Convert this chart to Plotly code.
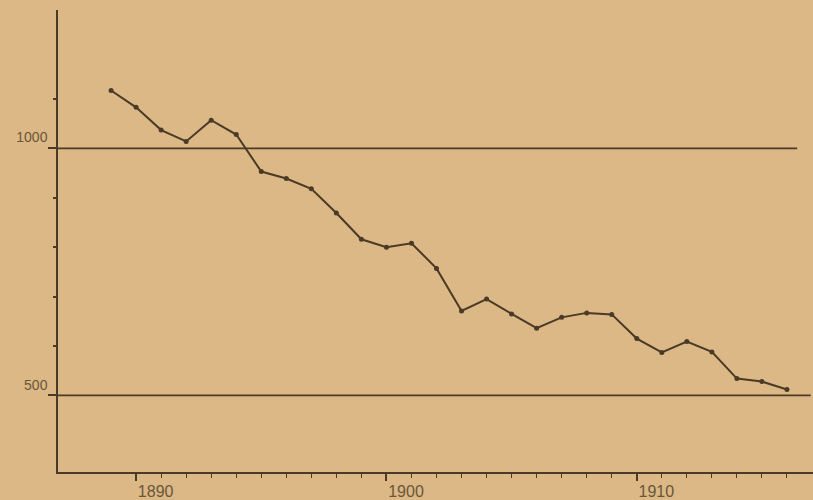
import plotly.graph_objects as go

years = list(range(1889, 1917))
values = [1117, 1083, 1037, 1014, 1057, 1028, 953, 939, 918, 869,
          816, 800, 808, 757, 671, 695, 665, 636, 658, 667,
          664, 615, 587, 609, 588, 534, 528, 512]

x_major = [1890, 1895, 1900, 1905, 1910, 1915]
x_major_text = ["1890", "", "1900", "", "1910", ""]
x_minor = list(range(1890, 1917))
y_major = [500, 1000]
y_major_text = ["500", "1000"]
y_minor = [600, 700, 800, 900, 1100]
ref_lines = [1000, 500]

ink = "#4a3a26"
bg = "#dbb886"

fig = go.Figure()
fig.add_trace(go.Scatter(
    x=years, y=values, mode="lines+markers",
    line=dict(color=ink, width=2),
    marker=dict(color=ink, size=5),
    showlegend=False, hoverinfo="x+y"))

line_ends = [0.979, 0.997]
for v, end in zip(ref_lines, line_ends):
    fig.add_shape(type="line", xref="paper", yref="y", x0=0, x1=end, y0=v, y1=v,
                  line=dict(color=ink, width=1.8))

fig.update_layout(
    width=813, height=500,
    margin=dict(l=58, r=0, t=10, b=28),
    paper_bgcolor=bg, plot_bgcolor=bg,
    font=dict(family="Liberation Sans", color="#6a5638"),
    xaxis=dict(
        range=[1886.88, 1917.04],
        tickmode="array", tickvals=x_major, ticktext=x_major_text,
        ticks="outside", ticklen=7, tickwidth=1.5, tickcolor=ink,
        ticklabelposition="outside right", ticklabelstandoff=4,
        tickfont=dict(size=16, color="#6a5638"),
        showgrid=False, zeroline=False,
        showline=True, linecolor=ink, linewidth=2,
        minor=dict(tickmode="array", tickvals=x_minor, ticks="outside",
                   ticklen=4, tickwidth=1.2, tickcolor=ink, showgrid=False),
    ),
    yaxis=dict(
        range=[345, 1280],
        tickmode="array", tickvals=y_major, ticktext=y_major_text,
        ticks="outside", ticklen=8, tickwidth=2, tickcolor=ink,
        ticklabelposition="outside top", ticklabelstandoff=6,
        tickfont=dict(size=14, color="#6a5638"),
        showgrid=False, zeroline=False,
        showline=True, linecolor=ink, linewidth=1.5,
        minor=dict(tickmode="array", tickvals=y_minor, ticks="outside",
                   ticklen=3, tickwidth=1.5, tickcolor=ink, showgrid=False),
    ),
)

fig.write_html(
    "out.html",
    config={"displayModeBar": False},
    post_script="document.body.style.margin='0';document.body.style.background='#dbb886';",
)
